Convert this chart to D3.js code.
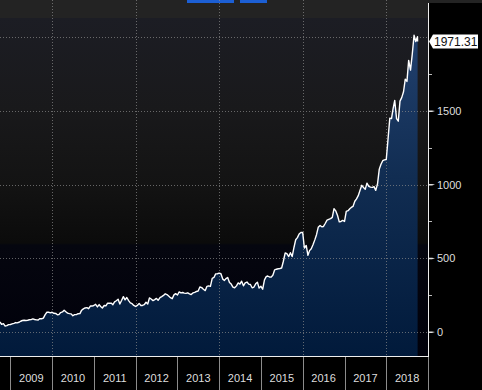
<!DOCTYPE html>
<html>
<head>
<meta charset="utf-8">
<script src="https://cdn.jsdelivr.net/npm/d3@7"></script>
<style>
  html, body { margin: 0; padding: 0; background: #000; }
  svg { display: block; }
  text { font-family: "Liberation Sans", Arial, sans-serif; }
</style>
</head>
<body>
<div id="chart"></div>
<script>
// closes sampled on the 1st and 16th of each month (2008 starts in October)
const px2008 = [68, 52, 57, 40, 43, 50];
const px2009 = [51, 55, 59, 64, 62, 66, 73, 78, 80, 78, 80, 83, 84, 89, 85, 82, 81, 91, 90, 94, 118, 134, 135, 130];
const px2010 = [134, 127, 126, 117, 118, 132, 136, 148, 137, 128, 125, 123, 110, 118, 118, 124, 125, 148, 157, 163, 165, 158, 176, 176];
const px2011 = [180, 188, 170, 186, 173, 163, 180, 178, 196, 195, 196, 185, 204, 212, 222, 190, 215, 240, 218, 234, 213, 198, 192, 180];
const px2012 = [173, 180, 194, 180, 180, 185, 202, 190, 231, 224, 213, 220, 228, 215, 233, 240, 248, 259, 254, 244, 233, 226, 252, 260];
const px2013 = [251, 272, 265, 268, 264, 262, 266, 259, 254, 265, 269, 275, 278, 306, 301, 290, 281, 310, 313, 310, 364, 370, 394, 395];
const px2014 = [399, 395, 359, 350, 362, 370, 336, 325, 304, 300, 313, 333, 325, 345, 313, 333, 339, 325, 322, 300, 305, 327, 338, 298];
const px2015 = [310, 290, 354, 376, 380, 373, 372, 387, 422, 426, 429, 431, 434, 480, 536, 531, 512, 538, 512, 570, 626, 640, 665, 675];
const px2016 = [676, 570, 587, 520, 552, 565, 594, 625, 660, 710, 723, 714, 716, 736, 759, 764, 769, 778, 837, 822, 790, 747, 750, 757];
const px2017 = [750, 818, 823, 836, 845, 852, 887, 903, 925, 960, 995, 980, 968, 1010, 988, 983, 981, 986, 961, 1002, 1105, 1138, 1162, 1168];
const px2018 = [1170, 1305, 1451, 1448, 1512, 1571, 1447, 1430, 1566, 1590, 1630, 1715, 1700, 1843, 1777, 1882, 2013, 1971, 2003];
const lastDate = "2018-10-02";
const lastClose = 1971.31;

const years = ["2009", "2010", "2011", "2012", "2013", "2014", "2015", "2016", "2017", "2018"];
const yTicks = [0, 500, 1000, 1500];
const yMinor = [250, 750, 1250, 1750];
const yGrid = [0, 500, 1000, 1500, 2000];

const W = 482, H = 390;
const plot = { left: 0, right: 428, top: 0, bottom: 356 };

// build series
const series = [];
function pushYear(year, startMonth, vals) {
  vals.forEach((v, i) => {
    const m = startMonth + Math.floor(i / 2);
    const d = i % 2 ? 16 : 1;
    series.push({ date: new Date(year, m, d), value: v });
  });
}
pushYear(2008, 9, px2008);
series[0].date = new Date(2008, 9, 2);
pushYear(2009, 0, px2009);
pushYear(2010, 0, px2010);
pushYear(2011, 0, px2011);
pushYear(2012, 0, px2012);
pushYear(2013, 0, px2013);
pushYear(2014, 0, px2014);
pushYear(2015, 0, px2015);
pushYear(2016, 0, px2016);
pushYear(2017, 0, px2017);
pushYear(2018, 0, px2018);
series.push({ date: d3.timeParse("%Y-%m-%d")(lastDate), value: lastClose });

const x = d3.scaleTime()
  .domain([new Date(2008, 9, 2), new Date(2019, 0, 1)])
  .range([plot.left, plot.right]);
const y = d3.scaleLinear()
  .domain([0, 2000])
  .range([332, 37.2]);

const svg = d3.select("#chart").append("svg")
  .attr("width", W).attr("height", H);

const defs = svg.append("defs");
const bg = defs.append("linearGradient").attr("id", "bg")
  .attr("gradientUnits", "userSpaceOnUse")
  .attr("x1", 0).attr("x2", 0).attr("y1", 0).attr("y2", plot.bottom);
[[0, "#232323"], [18 / 356, "#232323"], [18 / 356, "#1c1d24"], [110 / 356, "#19191b"],
 [185 / 356, "#131313"], [243 / 356, "#0b0b0b"], [245 / 356, "#05060f"], [1, "#00000a"]]
  .forEach(([o, c]) => bg.append("stop").attr("offset", o).attr("stop-color", c));

const fill = defs.append("linearGradient").attr("id", "fill")
  .attr("gradientUnits", "userSpaceOnUse")
  .attr("x1", 0).attr("x2", 0).attr("y1", 30).attr("y2", plot.bottom);
[[0, "#22416f"], [0.45, "#112d52"], [1, "#011a3b"]]
  .forEach(([o, c]) => fill.append("stop").attr("offset", o).attr("stop-color", c));

// backgrounds
svg.append("rect").attr("x", 0).attr("y", 0).attr("width", W).attr("height", H).attr("fill", "#000");
svg.append("rect").attr("x", plot.left).attr("y", 0)
  .attr("width", plot.right - plot.left).attr("height", plot.bottom).attr("fill", "url(#bg)");
svg.append("rect").attr("x", plot.right).attr("y", 0).attr("width", W - plot.right).attr("height", 3).attr("fill", "#232323");

// top buttons
svg.append("rect").attr("x", 187).attr("y", 0).attr("width", 47).attr("height", 3).attr("fill", "#1c5fd4");
svg.append("rect").attr("x", 240).attr("y", 0).attr("width", 27).attr("height", 3).attr("fill", "#1c5fd4");

// area + line
const area = d3.area()
  .x(d => x(d.date))
  .y0(plot.bottom)
  .y1(d => y(d.value));
svg.append("path").datum(series).attr("d", area).attr("fill", "url(#fill)");

// grid
const grid = svg.append("g").attr("stroke", "#8a8a8a").attr("stroke-width", 1)
  .attr("stroke-dasharray", "1,2").attr("opacity", 0.7);
yGrid.forEach(v => {
  grid.append("line").attr("x1", plot.left).attr("x2", plot.right)
    .attr("y1", Math.round(y(v)) + 0.5).attr("y2", Math.round(y(v)) + 0.5);
});
years.filter((yr, i) => i % 2 === 1).forEach(yr => {
  const xx = Math.round(x(new Date(+yr, 0, 1))) + 0.5;
  grid.append("line").attr("x1", xx).attr("x2", xx).attr("y1", 0).attr("y2", plot.bottom);
});

const line = d3.line()
  .x(d => x(d.date))
  .y(d => y(d.value));
svg.append("path").datum(series).attr("d", line)
  .attr("fill", "none").attr("stroke", "#fff").attr("stroke-width", 1.4)
  .attr("stroke-linejoin", "round");

// axes frame
svg.append("line").attr("x1", plot.right + 0.5).attr("x2", plot.right + 0.5)
  .attr("y1", 3).attr("y2", plot.bottom + 1).attr("stroke", "#eee");
svg.append("line").attr("x1", 0).attr("x2", plot.right + 1)
  .attr("y1", plot.bottom + 0.5).attr("y2", plot.bottom + 0.5).attr("stroke", "#eee");

// right axis
const ra = svg.append("g");
yTicks.forEach(v => {
  const yy = y(v);
  ra.append("path")
    .attr("d", `M${plot.right + 1},${yy - 0.5}L${plot.right + 4},${yy - 0.5}L${plot.right + 7},${yy}L${plot.right + 4},${yy + 1}L${plot.right + 1},${yy + 1}Z`)
    .attr("fill", "#ddd");
  ra.append("text").attr("x", plot.right + 9).attr("y", yy + 4)
    .attr("font-size", 11).attr("fill", "#dedede").text(v);
});
yMinor.forEach(v => {
  ra.append("line").attr("x1", plot.right + 1).attr("x2", plot.right + 4)
    .attr("y1", Math.round(y(v)) + 0.5).attr("y2", Math.round(y(v)) + 0.5)
    .attr("stroke", "#bbb");
});

// last value tag
const ly = y(lastClose);
ra.append("path")
  .attr("d", `M${plot.right + 1},${ly}L${plot.right + 5},${ly - 7}L${plot.right + 50},${ly - 7}L${plot.right + 50},${ly + 7}L${plot.right + 5},${ly + 7}Z`)
  .attr("fill", "#fff");
ra.append("text").attr("x", plot.right + 6).attr("y", ly + 4.5)
  .attr("font-size", 12).attr("fill", "#111").text(lastClose.toFixed(2));

// bottom axis: year separators and centred labels
const ba = svg.append("g");
const bounds = years.map(yr => new Date(+yr, 0, 1)).concat([new Date(2019, 0, 1)]);
bounds.forEach(d => {
  const xx = Math.round(x(d)) + 0.5;
  ba.append("line").attr("x1", xx).attr("x2", xx)
    .attr("y1", plot.bottom + 1).attr("y2", H).attr("stroke", "#8c8c8c");
});
years.forEach((yr, i) => {
  const cx = (x(bounds[i]) + x(bounds[i + 1])) / 2;
  ba.append("text").attr("x", cx).attr("y", 382).attr("text-anchor", "middle")
    .attr("font-size", 11).attr("fill", "#dedede").text(yr);
});
</script>
</body>
</html>
